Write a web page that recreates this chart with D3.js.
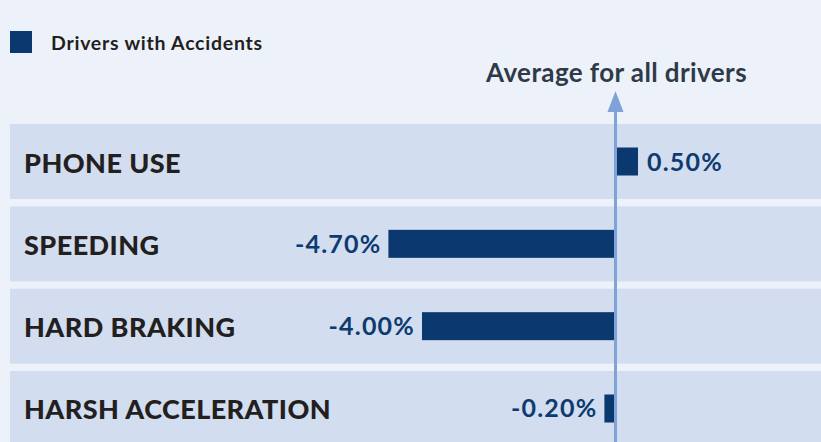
<!DOCTYPE html>
<html>
<head>
<meta charset="utf-8">
<script src="https://cdn.jsdelivr.net/npm/d3@7"></script>
<style>
  html, body { margin: 0; padding: 0; background: #edf2fa; }
  svg { display: block; font-family: Lato, "Open Sans", sans-serif; }
</style>
</head>
<body>
<div id="chart"></div>
<script>
// data
let categories = ["PHONE USE", "SPEEDING", "HARD BRAKING", "HARSH ACCELERATION"];
let values = [0.5, -4.7, -4.0, -0.2];
let seriesName = "Drivers with Accidents";
let refLabel = "Average for all drivers";

let width = 821;
let height = 442;

let svg = d3.select("#chart").append("svg")
    .attr("width", width)
    .attr("height", height);

svg.append("rect")
    .attr("width", width)
    .attr("height", height)
    .attr("fill", "#edf2fa");

// x: 0 sits on the reference arrow, ~48px per percent
let x = d3.scaleLinear()
    .domain([-5, 1])
    .range([614 - 5 * 48, 614 + 48]);

let y = d3.scaleBand()
    .domain(categories)
    .range([124, 446])
    .paddingInner(0.089)
    .paddingOuter(0);

let rows = categories.map((c, i) => ({ name: c, value: values[i] }));

// legend
svg.append("rect")
    .attr("x", 10).attr("y", 31)
    .attr("width", 22).attr("height", 22)
    .attr("fill", "#0b386e");
svg.append("text")
    .attr("x", 51).attr("y", 49.5)
    .attr("font-size", 19.5)
    .attr("font-weight", 700)
    .attr("letter-spacing", 0.75)
    .attr("fill", "#231f20")
    .text(seriesName);

// row bands
let rowg = svg.append("g").attr("id", "rows");
rowg.selectAll("rect")
    .data(rows)
    .enter().append("rect")
    .attr("x", 10)
    .attr("y", d => y(d.name))
    .attr("width", width - 10)
    .attr("height", y.bandwidth())
    .attr("fill", "#d2ddef");

rowg.selectAll("text.cat")
    .data(rows)
    .enter().append("text")
    .attr("class", "cat")
    .attr("x", 24)
    .attr("y", d => y(d.name) + y.bandwidth() / 2 + 11)
    .attr("font-size", 27)
    .attr("font-weight", 900)
    .attr("letter-spacing", 0.45)
    .attr("fill", "#231f20")
    .text(d => d.name);

// bars
let barH = 28;
let barg = svg.append("g").attr("id", "bars");
barg.selectAll("rect")
    .data(rows)
    .enter().append("rect")
    .attr("x", d => x(Math.min(0, d.value)))
    .attr("y", d => y(d.name) + (y.bandwidth() - barH) / 2)
    .attr("width", d => Math.abs(x(d.value) - x(0)))
    .attr("height", barH)
    .attr("fill", "#0b386e");

barg.selectAll("text")
    .data(rows)
    .enter().append("text")
    .attr("x", d => d.value < 0 ? x(d.value) - 7 : x(d.value) + 9)
    .attr("y", d => y(d.name) + y.bandwidth() / 2 + 9)
    .attr("text-anchor", d => d.value < 0 ? "end" : "start")
    .attr("font-size", 25)
    .attr("font-weight", 700)
    .attr("letter-spacing", 1.2)
    .attr("fill", "#0d3b70")
    .text(d => d3.format(".2f")(d.value).replace("\u2212", "-") + "%");

// reference arrow
let ax = x(0) + 1.5;
svg.append("line")
    .attr("x1", ax).attr("x2", ax)
    .attr("y1", 108).attr("y2", height)
    .attr("stroke", "#7fa3d8")
    .attr("stroke-width", 3);
svg.append("path")
    .attr("d", `M${ax},91 L${ax - 8},112 L${ax + 8},112 Z`)
    .attr("fill", "#7fa3d8");

svg.append("text")
    .attr("x", ax + 1)
    .attr("y", 82)
    .attr("text-anchor", "middle")
    .attr("font-size", 26)
    .attr("font-weight", 700)
    .attr("letter-spacing", 0.4)
    .attr("fill", "#2f3a48")
    .text(refLabel);
</script>
</body>
</html>
